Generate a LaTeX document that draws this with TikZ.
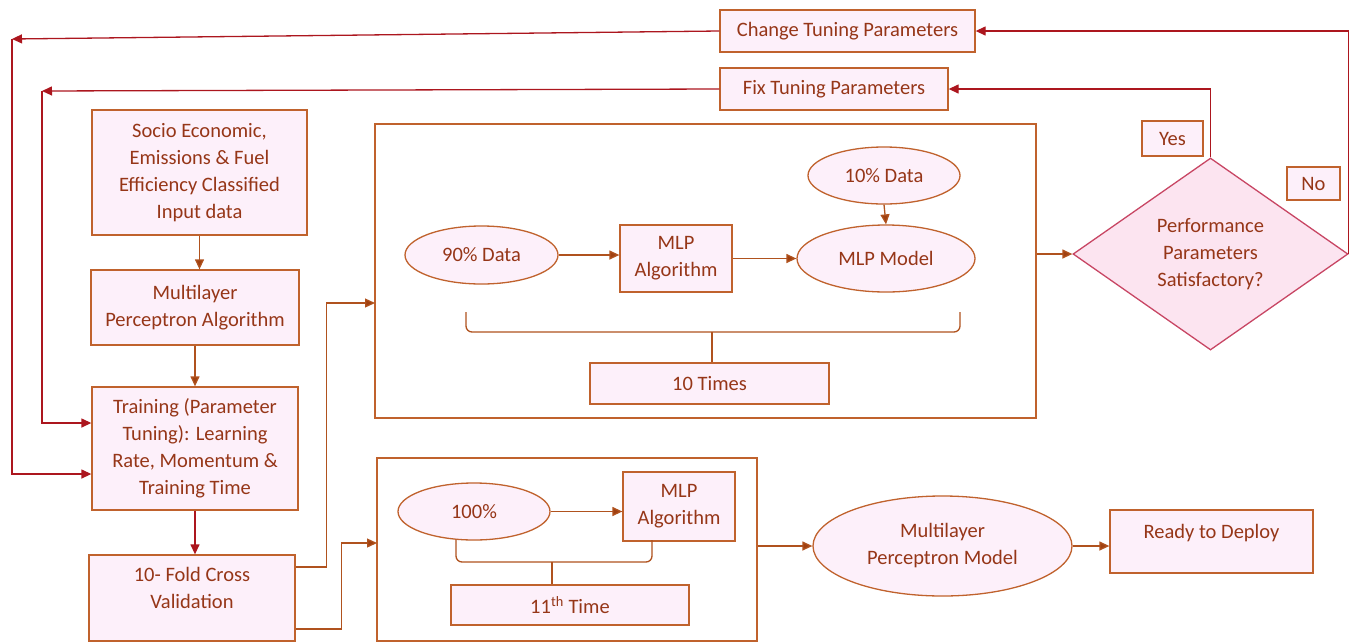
\documentclass[tikz,border=0pt]{standalone}
\usepackage{fontspec}
\setmainfont{Carlito}
\usetikzlibrary{arrows.meta,shapes.geometric,calc}
\definecolor{brc}{RGB}{192,98,45}
\definecolor{linec}{RGB}{176,82,30}
\definecolor{headc}{RGB}{160,64,16}
\definecolor{txtc}{RGB}{150,54,24}
\definecolor{fillc}{RGB}{253,240,250}
\definecolor{redc}{RGB}{172,22,30}
\definecolor{diac}{RGB}{200,70,100}
\definecolor{diafill}{RGB}{252,228,240}
\tikzset{
  box/.style={draw=brc, fill=fillc, line width=1.3pt, text=txtc, align=center, inner sep=0pt,
    font=\fontsize{20.5}{27}\selectfont},
  oval/.style={box, shape=ellipse},
  frame/.style={draw=brc, fill=white, line width=1.3pt, inner sep=0pt},
  arr/.style={draw=linec, line width=1.3pt, -{Triangle[length=10pt,width=9pt,fill=headc]}},
  fbarr/.style={draw=redc, line width=1.3pt, -{Triangle[length=10pt,width=9pt]}},
  conn/.style={draw=linec, line width=1.3pt},
}
\begin{document}
\begin{tikzpicture}[x=1pt,y=-1pt]
\useasboundingbox (0,0) rectangle (1354,643);
% big frames
\node[frame, minimum width=661pt, minimum height=294pt] (big1) at (705.5,271) {};
\node[frame, minimum width=380pt, minimum height=183pt] (big2) at (567,549.5) {};
% top boxes
\node[box, minimum width=255pt, minimum height=42pt] (change) at (847.5,31) {Change Tuning Parameters};
\node[box, minimum width=228pt, minimum height=42pt] (fix) at (834,89) {Fix Tuning Parameters};
% left column
\node[box, minimum width=215pt, minimum height=125pt] (socio) at (199.5,172.5) {Socio Economic,\\Emissions \& Fuel\\Efficiency Classified\\Input data};
\node[box, minimum width=208pt, minimum height=75pt] (mpa) at (195,307.5) {Multilayer\\Perceptron Algorithm};
\node[box, minimum width=206pt, minimum height=123pt] (train) at (195,448.5) {Training (Parameter\\Tuning): Learning\\Rate, Momentum \&\\Training Time};
\node[box, minimum width=206pt, minimum height=86pt] (fold) at (192,598) {\raisebox{8pt}[\height][\depth]{\begin{tabular}{@{}c@{}}10- Fold Cross\\Validation\end{tabular}}};
% inside big1
\node[oval, minimum width=153pt, minimum height=58pt] (d90) at (481.5,255) {90\% Data};
\node[box, minimum width=112pt, minimum height=67pt] (alg1) at (676,258.5) {MLP\\Algorithm};
\node[oval, minimum width=152pt, minimum height=57pt] (d10) at (884,175.5) {10\% Data};
\node[oval, minimum width=178pt, minimum height=67pt] (model) at (886,258.5) {MLP Model};
\node[box, minimum width=239pt, minimum height=41pt] (times) at (709.5,383.5) {10 Times};
% inside big2
\node[oval, minimum width=152pt, minimum height=57pt] (d100) at (474,511.5) {100\%};
\node[box, minimum width=112pt, minimum height=69pt] (alg2) at (679,506.5) {MLP\\Algorithm};
\node[box, minimum width=238pt, minimum height=40pt] (eleven) at (570,605) {11\textsuperscript{th} Time};
% right bottom
\node[oval, minimum width=259pt, minimum height=100pt] (mpm) at (942.5,546) {Multilayer\\Perceptron Model};
\node[box, minimum width=203pt, minimum height=63pt] (ready) at (1211.5,541.5) {\raisebox{8pt}[\height][\depth]{Ready to Deploy}};
% diamond
\node[shape=diamond, draw=diac, fill=diafill, line width=1.3pt, text=txtc, align=center, inner sep=0pt,
  minimum width=275pt, minimum height=192pt, font=\fontsize{20.5}{27}\selectfont] (dia) at (1210.5,254) {Performance\\Parameters\\Satisfactory?};
\node[box, minimum width=61pt, minimum height=35pt] (yes) at (1172.5,138.5) {Yes};
\node[box, minimum width=53pt, minimum height=33pt] (no) at (1313.5,183.5) {No};
% connectors left column
\draw[arr] (socio.south) -- (socio.south |- mpa.north);
\draw[arr] (mpa.south) -- (mpa.south |- train.north);
\draw[fbarr] (train.south) -- (train.south |- fold.north);
% feedback loops
\coordinate (c1) at (12,39);
\coordinate (c2) at (42,91);
\draw[fbarr] (change.west) -- (c1);
\draw[fbarr] (c1) |- ($(train.west)+(0,25.5)$);
\draw[fbarr] (fix.west) -- (c2);
\draw[fbarr] (c2) |- ($(train.west)+(0,-25.5)$);
\draw[fbarr] (dia.north) |- (fix.east);
\draw[fbarr] (dia.east) |- (change.east);
% fold to frames
\coordinate (in1) at (375,303);
\coordinate (in2) at (377,543);
\draw[arr] ($(fold.east)+(0,-31)$) -- ++(31,0) |- (in1);
\draw[arr] ($(fold.east)+(0,31)$) -- ++(46,0) |- (in2);
% inside big1
\draw[arr] (d90.east) -- (d90.east -| alg1.west);
\draw[arr] (alg1.east) -- (model.west);
\draw[arr] (d10.south) -- (model.north);
\draw[conn, rounded corners=6pt] (466,312) -- (466,332) -- (960,332) -- (960,312);
\coordinate (b1) at (712,332);
\draw[conn] (b1) -- (b1 |- times.north);
% big1 to diamond
\draw[arr] (big1.east |- dia.west) -- (dia.west);
% inside big2
\draw[arr] (d100.east) -- (d100.east -| alg2.west);
\draw[conn, rounded corners=6pt] (456,540) -- (456,562) -- (652,562) -- (652,540);
\coordinate (b2) at (552,562);
\draw[conn] (b2) -- (b2 |- eleven.north);
% bottom flow
\draw[arr] (big2.east |- mpm.west) -- (mpm.west);
\draw[arr] (mpm.east) -- (mpm.east -| ready.west);
\end{tikzpicture}
\end{document}
